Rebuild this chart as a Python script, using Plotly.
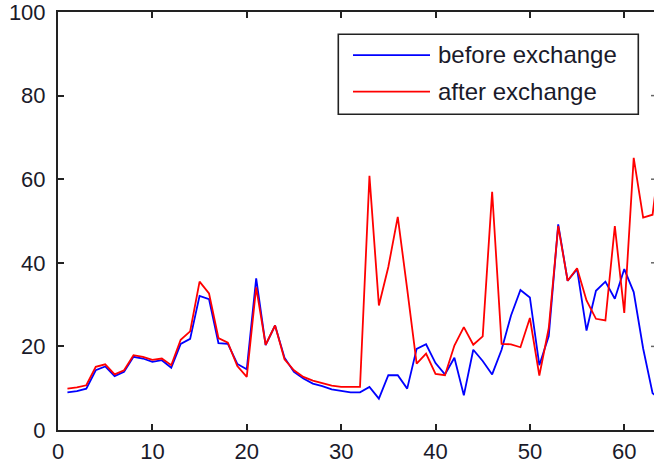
import plotly.graph_objects as go

x_vals = list(range(1, 65))

before_exchange = [
    9.0, 9.3, 9.9, 14.3, 15.2, 12.9, 13.9, 17.5, 17.1, 16.3,
    16.7, 14.9, 20.6, 21.8, 32.1, 31.3, 20.8, 20.6, 15.8, 14.5,
    36.3, 20.3, 25.0, 17.3, 13.9, 12.3, 11.1, 10.5, 9.7, 9.3,
    9.0, 9.0, 10.3, 7.5, 13.1, 13.1, 9.9, 19.4, 20.5, 16.0,
    13.3, 17.3, 8.3, 19.2, 16.5, 13.3, 19.2, 27.4, 33.5, 31.7,
    15.5, 22.5, 49.2, 35.7, 38.5, 23.8, 33.3, 35.5, 31.4, 38.5,
    33.0, 19.5, 8.8, 7.0,
]

after_exchange = [
    9.9, 10.2, 10.7, 15.1, 15.7, 13.3, 14.3, 17.9, 17.5, 16.8,
    17.1, 15.5, 21.6, 23.6, 35.5, 32.7, 22.0, 20.9, 15.3, 12.7,
    34.1, 20.4, 25.0, 16.9, 14.3, 12.7, 11.8, 11.2, 10.6, 10.3,
    10.3, 10.3, 60.8, 29.8, 39.0, 51.0, 33.7, 15.9, 18.3, 13.4,
    13.1, 20.2, 24.6, 20.4, 22.4, 57.0, 20.6, 20.5, 19.8, 26.8,
    13.0, 24.4, 48.8, 35.7, 38.7, 31.0, 26.6, 26.2, 48.8, 28.0,
    65.1, 50.8, 51.5, 70.0,
]

series_names = ["before exchange", "after exchange"]
series_colors = ["#0000FF", "#FF0000"]

x_ticks = [0, 10, 20, 30, 40, 50, 60]
y_ticks = [0, 20, 40, 60, 80, 100]

FONT = "Liberation Sans, Arial, sans-serif"
W, H = 654, 468
ML, MR, MT, MB = 58, 0, 10, 38
PW = W - ML - MR
PH = H - MT - MB

fig = go.Figure()
for name, ys, col in zip(series_names, [before_exchange, after_exchange], series_colors):
    fig.add_trace(go.Scatter(
        x=x_vals, y=ys, mode="lines", name=name,
        line=dict(color=col, width=1.8), showlegend=False,
        cliponaxis=True,
    ))

axis_common = dict(
    showgrid=False, zeroline=False, showline=True, linecolor="#222222",
    linewidth=2, ticks="inside", ticklen=6, tickwidth=1.5, tickcolor="#222222",
    tickfont=dict(family=FONT, size=22, color="#1a1a2a"),
    ticklabeloverflow="allow",
)

fig.update_xaxes(range=[0, 63.15], tickvals=x_ticks, mirror="ticks",
                 ticklabelstandoff=1, **axis_common)
fig.update_yaxes(range=[0, 100], tickvals=y_ticks, mirror=False,
                 ticklabelstandoff=6, **axis_common)

def px_x(p):
    return (p - ML) / PW

def px_y(p):
    return (H - MB - p) / PH

shapes = []
# partially visible right-hand axis ticks at the cropped edge
for v in y_ticks[1:-1]:
    shapes.append(dict(type="line", xref="paper", yref="y",
                       x0=1 - 3 / PW, x1=1, y0=v, y1=v,
                       line=dict(color="#666666", width=1.5)))

# legend box
shapes.append(dict(type="rect", xref="paper", yref="paper",
                   x0=px_x(338.3), x1=px_x(638.3), y0=px_y(112.7), y1=px_y(32.3),
                   line=dict(color="#222222", width=1.6), fillcolor="white", layer="above"))
legend_rows_y = [53.3, 90.0]
annotations = []
for name, col, ry in zip(series_names, series_colors, legend_rows_y):
    shapes.append(dict(type="line", xref="paper", yref="paper",
                       x0=px_x(353), x1=px_x(430), y0=px_y(ry), y1=px_y(ry),
                       line=dict(color=col, width=1.6), layer="above"))
    annotations.append(dict(xref="paper", yref="paper", x=px_x(436), y=px_y(ry - 0.5),
                            text=name, showarrow=False, xanchor="left", yanchor="middle",
                            font=dict(family=FONT, size=24, color="#1a1a2a")))

fig.update_layout(
    width=W, height=H,
    margin=dict(l=ML, r=MR, t=MT, b=MB, pad=0),
    paper_bgcolor="white", plot_bgcolor="white",
    shapes=shapes, annotations=annotations,
    showlegend=False,
)

fig.write_html("out.html", config={"displayModeBar": False})
